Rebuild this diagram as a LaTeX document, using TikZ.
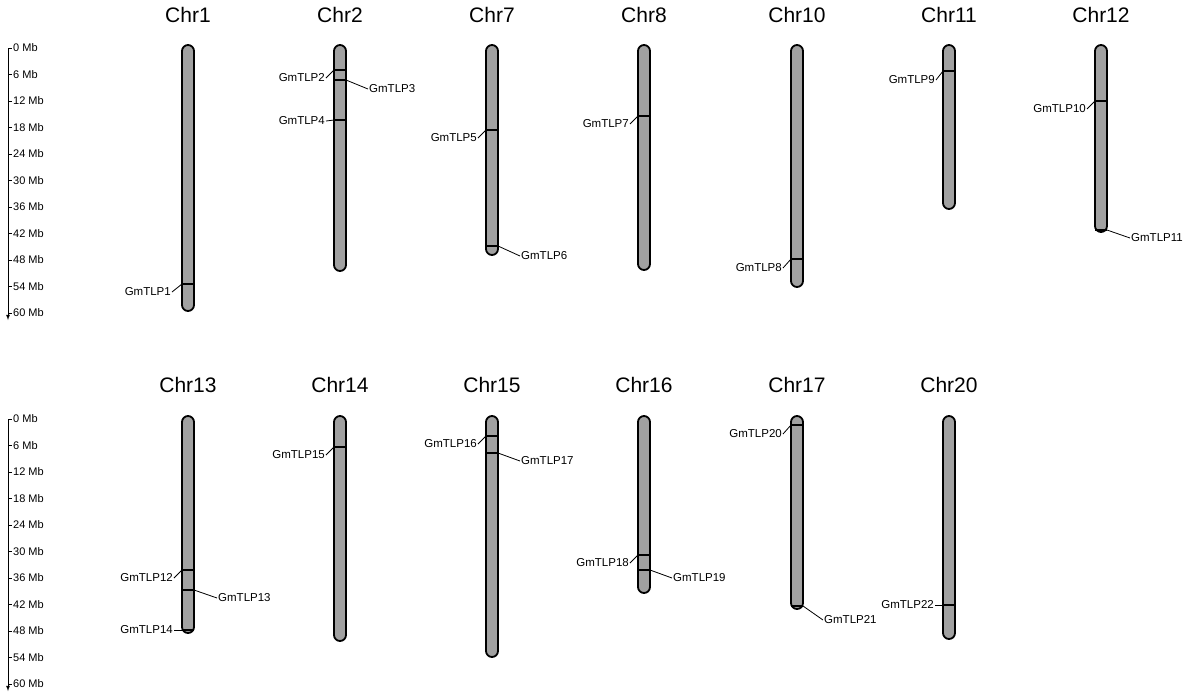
\documentclass[tikz,border=0pt]{standalone}
\usepackage{fontspec}
\setmainfont{Liberation Sans}
\begin{document}
\begin{tikzpicture}[x=1pt,y=-1pt,
  chrom/.style={draw=black,line width=1.8pt,fill=gray!95!black!70,rounded corners=6pt},
  genemark/.style={line width=2.4pt},
  lbl/.style={font=\fontsize{11.5}{13}\selectfont,inner sep=1pt},
  ttl/.style={font=\fontsize{21}{24}\selectfont},
  ax/.style={font=\fontsize{11}{13}\selectfont,anchor=west,inner sep=0pt},
  lead/.style={line width=0.8pt}]
\useasboundingbox (0,0) rectangle (1200,697);
% axes
\foreach \yo in {48,419}{
  \draw[line width=0.8pt,-latex] (8,\yo) -- (8,\yo+272);
  \foreach \i in {0,...,10}{
    \pgfmathtruncatemacro\mb{\i*6}
    \draw[line width=0.8pt] (8,\yo+\i*26.5) -- (12,\yo+\i*26.5);
    \node[ax] at (13,\yo+\i*26.5) {\mb{} Mb};
  }
}
% chromosomes
\foreach \n/\x/\b/\t in {Chr1/188/311/15,Chr2/340/271/15,Chr7/492/255/15,Chr8/644/270/15,Chr10/797/287/15,Chr11/949/209/15,Chr12/1101/232/15}{
  \draw[chrom] (\x-6,45) rectangle (\x+6,\b);
  \node[ttl] at (\x,\t) {\n};
}
\foreach \n/\x/\b/\t in {Chr13/188/633/385,Chr14/340/641/385,Chr15/492/657/385,Chr16/644/593/385,Chr17/797/609/385,Chr20/949/639/385}{
  \draw[chrom] (\x-6,416) rectangle (\x+6,\b);
  \node[ttl] at (\x,\t) {\n};
}
% left labels
\foreach \g/\x/\m/\l/\e in {GmTLP1/188/284/292/172,GmTLP2/340/70/78/326,GmTLP4/340/120/121/326,GmTLP5/492/130/138/478,GmTLP7/644/116/124/630,GmTLP8/797/259/268/783,GmTLP9/949/71/80/936,GmTLP10/1101/101/109/1087,GmTLP12/188/570/578/174,GmTLP14/188/630/630/174,GmTLP15/340/447/455/326,GmTLP16/492/436/444/478,GmTLP18/644/555/563/630,GmTLP20/797/425/434/783,GmTLP22/949/605/605/935}{
  \draw[genemark] (\x-6,\m) -- (\x+6,\m);
  \node[lbl,anchor=east] (\g) at (\e,\l) {\g};
  \coordinate (\g c) at (\x-6,\m);
  \draw[lead] (\g.east) -- (\g c);
}
% right labels
\foreach \g/\x/\m/\l/\s in {GmTLP3/340/80/89/368,GmTLP6/492/246/256/520,GmTLP11/1101/230/238/1130,GmTLP13/188/590/598/217,GmTLP17/492/453/461/520,GmTLP19/644/570/578/672,GmTLP21/797/606/620/823}{
  \draw[genemark] (\x-6,\m) -- (\x+6,\m);
  \node[lbl,anchor=west] (\g) at (\s,\l) {\g};
  \coordinate (\g c) at (\x+6,\m);
  \draw[lead] (\g.west) -- (\g c);
}
\end{tikzpicture}
\end{document}
